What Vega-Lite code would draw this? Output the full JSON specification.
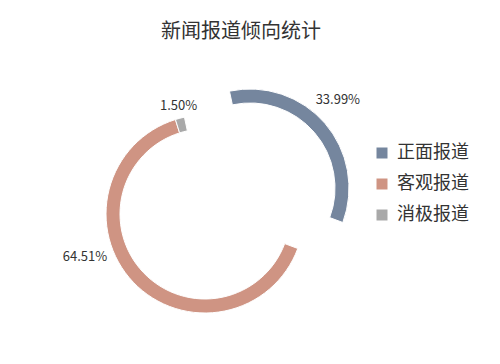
{
  "$schema": "https://vega.github.io/schema/vega-lite/v6.json",
  "width": 500,
  "height": 304,
  "autosize": "none",
  "padding": {"top": 60, "left": 0, "right": 0, "bottom": 0},
  "background": "white",
  "title": {"text": "新闻报道倾向统计", "font": "Noto Sans CJK SC", "fontSize": 20, "fontWeight": "normal", "color": "#333333", "anchor": "middle", "dx": -9, "offset": 10},
  "config": {"view": {"stroke": null}, "font": "Noto Sans CJK SC"},
  "data": {"values": [
    {"类别": "正面报道", "占比": 0.3399, "序": 1},
    {"类别": "客观报道", "占比": 0.6451, "序": 2},
    {"类别": "消极报道", "占比": 0.015, "序": 3}
  ]},
  "encoding": {
    "theta": {"field": "占比", "type": "quantitative", "stack": true, "scale": {"range": [-0.209, 6.074]}},
    "order": {"field": "序", "type": "quantitative"},
    "color": {
      "field": "类别", "type": "nominal",
      "scale": {"domain": ["正面报道", "客观报道", "消极报道"], "range": ["#75869e", "#cf9483", "#a9a9a9"]},
      "legend": {"title": null, "orient": "none", "legendX": 373, "legendY": 84, "symbolType": "square", "symbolSize": 121, "symbolStrokeWidth": 0, "labelFontSize": 18, "labelColor": "#333333", "labelFont": "Noto Sans CJK SC", "rowPadding": 13, "labelOffset": 6, "padding": 0}
    }
  },
  "layer": [
    {
      "mark": {"type": "arc", "outerRadius": 99, "innerRadius": 85, "xOffset": 0, "yOffset": -24, "stroke": "white", "strokeWidth": 1},
      "encoding": {"opacity": {"condition": {"test": "datum['类别'] === '正面报道'", "value": 1}, "value": 0}}
    },
    {
      "mark": {"type": "arc", "outerRadius": 99, "innerRadius": 85, "xOffset": -45, "yOffset": 2, "stroke": "white", "strokeWidth": 1},
      "encoding": {"opacity": {"condition": {"test": "datum['类别'] !== '正面报道'", "value": 1}, "value": 0}}
    },
    {
      "mark": {"type": "text", "radius": 120, "xOffset": 0, "yOffset": -24, "dx": -3, "dy": -10, "fontSize": 13, "color": "#333333", "align": "center", "baseline": "middle"},
      "encoding": {"text": {"condition": {"test": "datum['类别'] === '正面报道'", "field": "占比", "type": "quantitative", "format": ".2%"}, "value": ""}, "color": {"value": "#333333"}}
    },
    {
      "mark": {"type": "text", "radius": 120, "xOffset": -45, "yOffset": 2, "dx": -33, "dy": -40, "fontSize": 13, "color": "#333333", "align": "center", "baseline": "middle"},
      "encoding": {"text": {"condition": {"test": "datum['类别'] === '客观报道'", "field": "占比", "type": "quantitative", "format": ".2%"}, "value": ""}, "color": {"value": "#333333"}}
    },
    {
      "mark": {"type": "text", "radius": 112, "xOffset": -45, "yOffset": 2, "dx": 2, "dy": 0, "fontSize": 13, "color": "#333333", "align": "center", "baseline": "middle"},
      "encoding": {"text": {"condition": {"test": "datum['类别'] === '消极报道'", "field": "占比", "type": "quantitative", "format": ".2%"}, "value": ""}, "color": {"value": "#333333"}}
    }
  ]
}
